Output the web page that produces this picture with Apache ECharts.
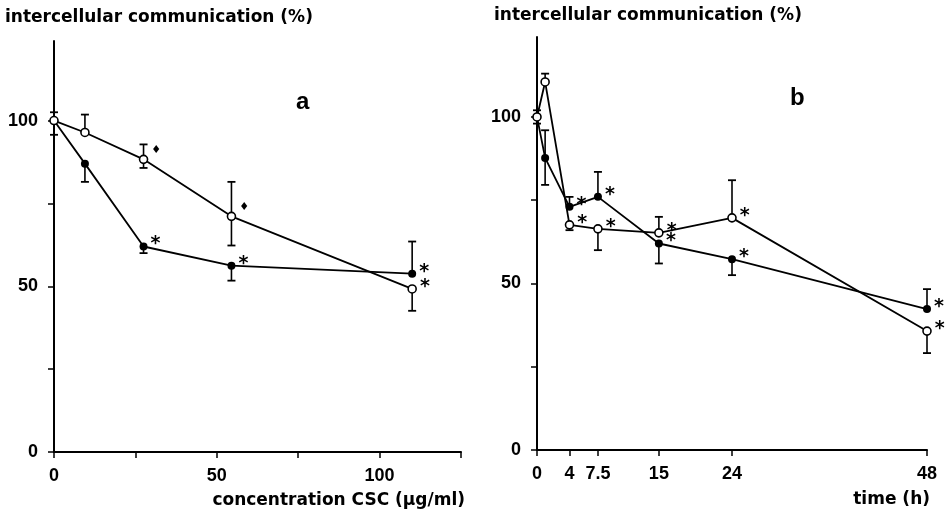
<!DOCTYPE html>
<html>
<head>
<meta charset="utf-8" />
<title>intercellular communication</title>
<script src="https://cdn.jsdelivr.net/npm/echarts@6.0.0/dist/echarts.min.js"></script>
<style>
    html, body { margin: 0; background: #fff; }
    #main { width: 946px; height: 516px; }
</style>
</head>
<body>
<div id="main"></div>
<script>
    // panel a: concentration CSC (ug/ml)
    var concA = [0, 9.5, 27.5, 54.5, 110];
    var openA = [100, 96.4, 88.3, 71.1, 49.2];
    var openALow = [100, 96.4, 85.7, 62.3, 42.6];
    var openAHigh = [102.5, 101.8, 92.8, 81.5, 49.2];
    var openAMarks = ['', '', '{d|\u2666}', '{d|\u2666}', '*'];
    var fillA = [100, 87, 62, 56.2, 53.8];
    var fillALow = [95.7, 81.5, 60, 51.7, 53.8];
    var fillAHigh = [100, 87, 62, 56.2, 63.5];
    var fillAMarks = ['', '', '*', '*', '*'];

    // panel b: time (h)
    var timeB = [0, 1, 4, 7.5, 15, 24, 48];
    var openB = [100, 110.5, 67.6, 66.4, 65.2, 69.7, 35.7];
    var openBLow = [98, 110.5, 66, 60, 65.2, 69.7, 29.1];
    var openBHigh = [102, 113, 67.6, 66.4, 70, 81, 35.7];
    var fillB = [100, 87.7, 73, 76, 62, 57.3, 42.3];
    var fillBLow = [100, 79.6, 73, 76, 56, 52.5, 42.3];
    var fillBHigh = [100, 96, 76, 83.5, 62, 57.3, 48.3];
    var marksB = ['', '', '*', '*', '*', '*', '*'];

    // tick values
    var yTicks = [0, 25, 50, 75, 100];
    var yLabels = [0, 50, 100];
    var xTicksA = [0, 25, 50, 75, 100, 125];
    var xLabelsA = [0, 50, 100];
    var xTicksB = [0, 4, 7.5, 15, 24, 48];

    var font = 'DejaVu Sans';
    var numFont = 'Liberation Sans';

    function pairs(xs, ys) {
        return xs.map(function (x, i) { return [x, ys[i]]; });
    }

    function barData(xs, ys, lo, hi) {
        return xs.map(function (x, i) { return [x, ys[i], lo[i], hi[i]]; });
    }

    // vertical error bar with a cap on the far end
    function errorBar(params, api) {
        var x = api.value(0);
        var pt = api.coord([x, api.value(1)]);
        var children = [];
        [api.value(2), api.value(3)].forEach(function (v) {
            if (v === api.value(1)) return;
            var p = api.coord([x, v]);
            children.push({ type: 'line', shape: { x1: pt[0], y1: pt[1], x2: p[0], y2: p[1] },
                style: { stroke: '#000', lineWidth: 1.6 } });
            children.push({ type: 'line', shape: { x1: p[0] - 4, y1: p[1], x2: p[0] + 4, y2: p[1] },
                style: { stroke: '#000', lineWidth: 1.8 } });
        });
        return { type: 'group', children: children };
    }

    function axisCommon() {
        return {
            type: 'value',
            axisLine: { show: true, onZero: false, lineStyle: { color: '#000', width: 2 } },
            splitLine: { show: false },
            axisLabel: { color: '#000', fontFamily: numFont, fontWeight: 'bold', fontSize: 18 }
        };
    }

    function xAxis(grid, max, ticks, labels) {
        var a = axisCommon();
        a.gridIndex = grid;
        a.min = 0;
        a.max = max;
        a.axisTick = { show: true, customValues: ticks, length: 6, lineStyle: { color: '#000', width: 1.5 } };
        a.axisLabel.customValues = labels;
        a.axisLabel.margin = 15;
        return a;
    }

    function yAxis(grid) {
        var a = axisCommon();
        a.gridIndex = grid;
        a.min = 0;
        a.max = 124;
        a.axisTick = { show: true, customValues: yTicks, length: 6, lineStyle: { color: '#000', width: 1.5 } };
        a.axisLabel.customValues = yLabels;
        a.axisLabel.margin = 16;
        return a;
    }

    function lineSeries(idx, data, open, marks) {
        return {
            type: 'line',
            xAxisIndex: idx,
            yAxisIndex: idx,
            data: data,
            symbol: 'circle',
            symbolSize: 8,
            z: 3,
            lineStyle: { color: '#000', width: 1.8 },
            itemStyle: open ? { color: '#fff', borderColor: '#000', borderWidth: 1.6 } : { color: '#000' },
            label: {
                show: true,
                position: 'right',
                offset: [-2, -2],
                color: '#000',
                fontFamily: 'DejaVu Sans',
                fontWeight: 'bold',
                fontSize: 19,
                rich: { d: { fontSize: 11, padding: [0, 0, 14, 0] } },
                formatter: function (p) { return marks[p.dataIndex]; }
            },
            animation: false
        };
    }

    function barSeries(idx, data) {
        return {
            type: 'custom',
            xAxisIndex: idx,
            yAxisIndex: idx,
            data: data,
            z: 2,
            renderItem: errorBar,
            animation: false
        };
    }

    var myChart = echarts.init(document.getElementById('main'));

    var option = {
        backgroundColor: '#fff',
        animation: false,
        grid: [
            { left: 54, top: 41, width: 407, height: 411 },
            { left: 537, top: 37, width: 390, height: 413 }
        ],
        xAxis: [xAxis(0, 125, xTicksA, xLabelsA), xAxis(1, 48, xTicksB, xTicksB)],
        yAxis: [yAxis(0), yAxis(1)],
        graphic: [
            { type: 'text', left: 5, top: 9, style: { text: 'intercellular communication (%)', fontFamily: font, fontWeight: 'bold', fontSize: 17, fill: '#000' } },
            { type: 'text', left: 494, top: 7, style: { text: 'intercellular communication (%)', fontFamily: font, fontWeight: 'bold', fontSize: 17, fill: '#000' } },
            { type: 'text', left: 296, top: 90, style: { text: 'a', fontFamily: 'Liberation Sans', fontWeight: 'bold', fontSize: 24, fill: '#000' } },
            { type: 'text', left: 790, top: 86, style: { text: 'b', fontFamily: 'Liberation Sans', fontWeight: 'bold', fontSize: 24, fill: '#000' } },
            { type: 'text', right: 481, top: 492, style: { text: 'concentration CSC (\u00b5g/ml)', fontFamily: font, fontWeight: 'bold', fontSize: 17, fill: '#000' } },
            { type: 'text', right: 16, top: 491, style: { text: 'time (h)', fontFamily: font, fontWeight: 'bold', fontSize: 17, fill: '#000' } }
        ],
        series: [
            barSeries(0, barData(concA, openA, openALow, openAHigh)),
            barSeries(0, barData(concA, fillA, fillALow, fillAHigh)),
            lineSeries(0, pairs(concA, fillA), false, fillAMarks),
            lineSeries(0, pairs(concA, openA), true, openAMarks),
            barSeries(1, barData(timeB, openB, openBLow, openBHigh)),
            barSeries(1, barData(timeB, fillB, fillBLow, fillBHigh)),
            lineSeries(1, pairs(timeB, fillB), false, marksB),
            lineSeries(1, pairs(timeB, openB), true, marksB)
        ]
    };

    myChart.setOption(option);
</script>
</body>
</html>
